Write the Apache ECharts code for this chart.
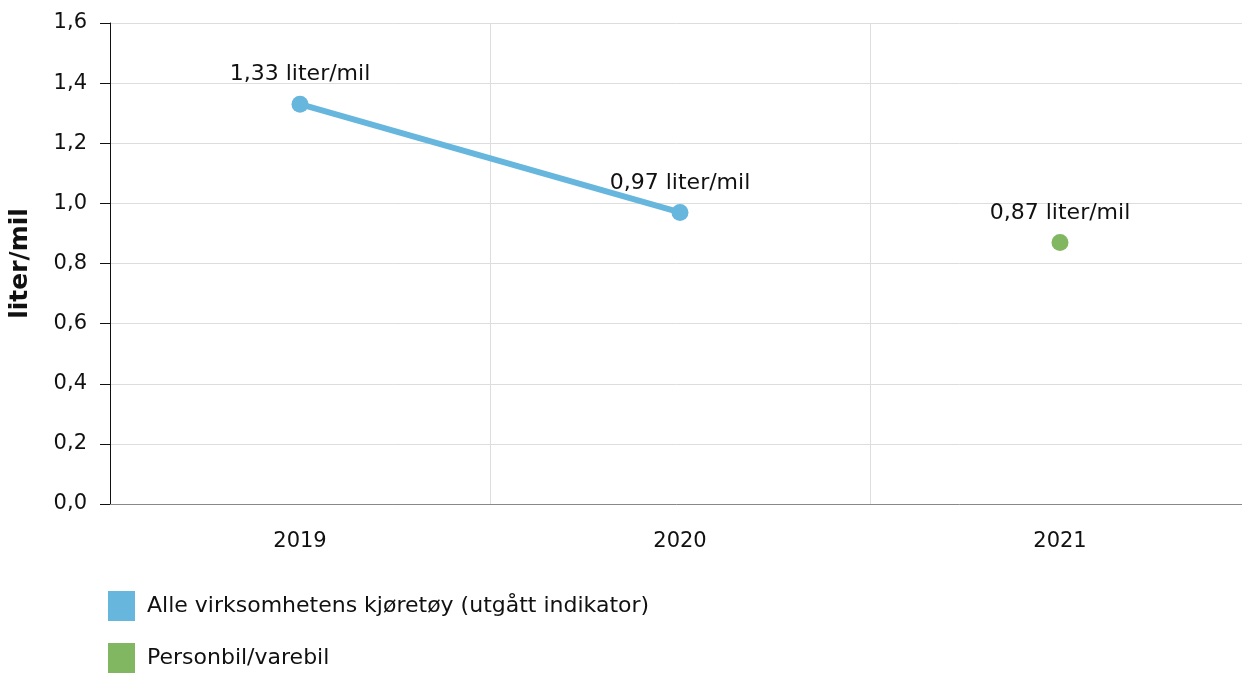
<!DOCTYPE html>
<html>
<head>
<meta charset="utf-8">
<script src="https://cdn.jsdelivr.net/npm/echarts@6/dist/echarts.min.js"></script>
<style>
  html, body { margin: 0; padding: 0; background: #fff; }
  #main { width: 1242px; height: 673px; }
</style>
</head>
<body>
<div id="main"></div>
<script>
const years = ['2019', '2020', '2021']
const alleKjoretoy = [1.33, 0.97, null]
const personbil = [null, null, 0.87]
const seriesNames = ['Alle virksomhetens kjøretøy (utgått indikator)', 'Personbil/varebil']

const fontFamily = '"DejaVu Sans", Verdana, sans-serif'
const fmt = (v) => v.toFixed(1).replace('.', ',')
const labelFmt = (p) => p.value.toFixed(2).replace('.', ',') + ' liter/mil'

const myChart = echarts.init(document.getElementById('main'))

// plottet går litt forbi høyre kant, som i originalen
const option = {
  animation: false,
  textStyle: { fontFamily: fontFamily },
  grid: { left: 110, right: -8, top: 23, bottom: 169, containLabel: false, outerBoundsMode: 'none' },
  legend: {
    orient: 'vertical',
    left: 108,
    top: 591,
    height: 200,
    padding: 0,
    icon: 'rect',
    itemWidth: 27,
    itemHeight: 30,
    itemGap: 22,
    textStyle: { fontSize: 22, color: '#111', fontFamily: fontFamily, padding: [0, 0, 0, 7] },
    data: seriesNames
  },
  xAxis: {
    type: 'category',
    data: years,
    boundaryGap: true,
    axisLine: { lineStyle: { color: '#888', width: 1 } },
    axisTick: { alignWithLabel: true, length: 10, lineStyle: { color: '#aaa' } },
    axisLabel: { fontSize: 21, color: '#111', margin: 27 },
    splitLine: { show: true, lineStyle: { color: '#ddd' } }
  },
  yAxis: {
    type: 'value',
    min: 0,
    max: 1.6,
    interval: 0.2,
    name: 'liter/mil',
    nameLocation: 'middle',
    nameGap: 77,
    nameTextStyle: { fontSize: 25, fontWeight: 'bold', color: '#111' },
    axisLine: { show: true, lineStyle: { color: '#111' } },
    axisTick: { show: true, length: 10, lineStyle: { color: '#111' } },
    axisLabel: { fontSize: 21, color: '#111', margin: 23, formatter: fmt },
    splitLine: { lineStyle: { color: '#ddd' } }
  },
  series: [
    {
      name: seriesNames[0],
      type: 'line',
      data: alleKjoretoy,
      color: '#67b6dd',
      lineStyle: { width: 6 },
      symbol: 'circle',
      symbolSize: 17,
      label: {
        show: true,
        position: 'top',
        distance: 10,
        fontSize: 22,
        color: '#111',
        formatter: labelFmt
      }
    },
    {
      name: seriesNames[1],
      type: 'line',
      data: personbil,
      color: '#80b760',
      lineStyle: { width: 6 },
      symbol: 'circle',
      symbolSize: 17,
      label: {
        show: true,
        position: 'top',
        distance: 10,
        fontSize: 22,
        color: '#111',
        formatter: labelFmt
      }
    }
  ]
}

myChart.setOption(option)
window.addEventListener('resize', () => {
  myChart.resize()
})
</script>
</body>
</html>
